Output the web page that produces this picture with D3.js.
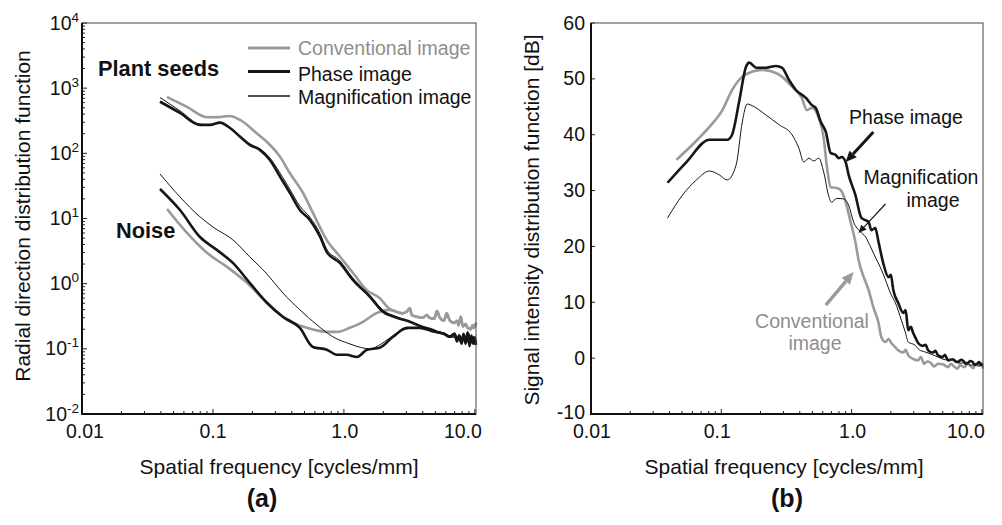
<!DOCTYPE html>
<html><head><meta charset="utf-8">
<script src="https://cdn.jsdelivr.net/npm/d3@7/dist/d3.min.js"></script>
<style>body{margin:0;background:#fff}svg{display:block;font-family:"Liberation Sans",Arial,Helvetica,sans-serif}</style>
</head><body><svg id="c" width="1002" height="525"></svg>
<script>
// ---------- data ----------
const xTickValues = [0.01, 0.1, 1, 10];
const xTickLabels = ["0.01", "0.1", "1.0", "10.0"];
const leftYExponents = [-2, -1, 0, 1, 2, 3, 4];
const rightYTicks = [-10, 0, 10, 20, 30, 40, 50, 60];
const legendLabels = ["Conventional image", "Phase image", "Magnification image"];

// (a) Radial direction distribution function — plant seeds
const seedsConventional = [[0.0446,733],[0.0634,515],[0.09,358],[0.11,360],[0.135,375],[0.161,325],[0.216,203],[0.257,151],[0.325,89],[0.387,49.5],[0.487,24.7],[0.58,12.2],[0.738,4.7],[0.931,2.61],[1.17,1.47],[1.49,0.8],[1.88,0.6],[2.2,0.42],[2.54,0.369],[2.8,0.35],[3.0,0.37],[3.19,0.42],[3.3,0.33],[3.61,0.31],[4.0,0.3],[4.3,0.33],[4.5,0.3],[4.9,0.29],[5.13,0.38],[5.4,0.3],[5.8,0.27],[6.1,0.35],[6.45,0.27],[7.0,0.25],[7.3,0.27],[7.5,0.23],[7.8,0.31],[8.1,0.22],[8.5,0.24],[8.8,0.21],[9.3,0.2],[9.6,0.23],[9.8,0.21],[10.2,0.25]];
const seedsPhase = [[0.0394,621],[0.056,417],[0.0796,273],[0.095,273],[0.113,296],[0.135,245],[0.161,180],[0.191,135],[0.228,113],[0.272,79],[0.325,44],[0.387,24.7],[0.461,13.5],[0.55,9.5],[0.656,5.3],[0.738,3.08],[0.931,2.08],[1.17,1.14],[1.58,0.63],[1.99,0.37],[2.54,0.3],[3.19,0.26],[4.0,0.217],[4.6,0.2],[5.13,0.182],[5.8,0.17],[6.45,0.153],[7.0,0.17],[7.3,0.13],[7.6,0.16],[7.9,0.12],[8.2,0.17],[8.5,0.12],[8.8,0.18],[9.1,0.11],[9.4,0.16],[9.7,0.12],[10.0,0.15],[10.2,0.115]];
const seedsMagnification = [[0.0394,720],[0.056,450],[0.0796,280],[0.095,274],[0.113,300],[0.135,250],[0.161,186],[0.191,140],[0.228,118],[0.272,85],[0.325,50],[0.387,28],[0.461,15.5],[0.55,10.5],[0.656,5.9],[0.738,3.4],[0.931,2.25],[1.17,1.22],[1.58,0.66],[1.99,0.39],[2.54,0.31],[3.19,0.26],[4.0,0.22],[4.6,0.2],[5.13,0.185],[5.8,0.17],[6.45,0.155],[7.0,0.15],[7.5,0.145],[8.1,0.14],[8.7,0.13],[9.3,0.14],[10.2,0.12]];
// (a) noise
const noiseConventional = [[0.0446,14.0],[0.0634,6.0],[0.09,2.97],[0.128,1.81],[0.182,1.03],[0.258,0.51],[0.367,0.279],[0.523,0.21],[0.741,0.182],[0.885,0.182],[1.11,0.21],[1.4,0.26],[1.79,0.356],[2.24,0.396],[2.54,0.369],[2.8,0.35],[3.0,0.37],[3.19,0.42],[3.3,0.33],[3.61,0.31],[4.0,0.3],[4.3,0.33],[4.5,0.3],[4.9,0.29],[5.13,0.38],[5.4,0.3],[5.8,0.27],[6.1,0.35],[6.45,0.27],[7.0,0.25],[7.3,0.27],[7.5,0.23],[7.8,0.31],[8.1,0.22],[8.5,0.24],[8.8,0.21],[9.3,0.2],[9.6,0.23],[9.8,0.21],[10.2,0.25]];
const noisePhase = [[0.0394,28.4],[0.056,13.5],[0.0796,5.2],[0.107,3.3],[0.142,2.08],[0.191,1.03],[0.258,0.51],[0.342,0.31],[0.461,0.21],[0.58,0.107],[0.741,0.097],[0.885,0.081],[1.05,0.081],[1.26,0.075],[1.5,0.097],[1.88,0.104],[2.37,0.153],[3.03,0.21],[3.8,0.21],[4.78,0.185],[5.8,0.17],[6.45,0.153],[7.0,0.17],[7.3,0.135],[7.6,0.16],[7.9,0.125],[8.2,0.165],[8.5,0.13],[8.9,0.17],[9.3,0.125],[9.7,0.15],[10.0,0.12],[10.2,0.13]];
const noiseMagnification = [[0.0394,48.3],[0.056,21.4],[0.0796,10.6],[0.1,7.4],[0.142,4.7],[0.191,2.58],[0.258,1.41],[0.342,0.72],[0.461,0.396],[0.622,0.233],[0.824,0.153],[1.11,0.119],[1.37,0.104],[1.58,0.1],[1.88,0.115],[2.24,0.147],[2.82,0.195],[3.61,0.21],[4.6,0.2],[5.8,0.17],[6.45,0.155],[7.2,0.15],[8.1,0.14],[8.8,0.15],[9.4,0.13],[10.2,0.125]];

// (b) Signal intensity distribution function [dB]
const sigConventional = [[0.0453,35.5],[0.06,38.2],[0.081,41.4],[0.102,44.4],[0.121,48.0],[0.145,50.4],[0.173,51.3],[0.206,51.6],[0.245,51.3],[0.292,50.4],[0.349,48.6],[0.415,46.6],[0.453,44.4],[0.496,44.8],[0.56,43.0],[0.611,39.4],[0.644,34.6],[0.692,30.6],[0.755,30.5],[0.824,30.1],[0.9,28.0],[0.982,24.4],[1.07,20.8],[1.13,17.6],[1.24,14.5],[1.35,12.2],[1.47,9.1],[1.61,6.3],[1.69,3.8],[1.82,2.9],[1.92,3.4],[2.02,2.7],[2.15,2.0],[2.28,1.4],[2.5,1.0],[2.6,1.5],[2.72,0.5],[3.0,-0.2],[3.24,-0.4],[3.4,0.2],[3.6,-1.0],[3.8,-0.6],[4.08,-0.9],[4.3,-1.5],[4.6,-1.0],[5.0,-1.1],[5.5,-1.6],[5.8,-1.0],[6.0,-1.3],[6.5,-1.9],[6.8,-1.2],[7.0,-1.4],[7.41,-1.6],[7.7,-1.0],[8.0,-1.2],[8.6,-1.8],[8.9,-1.1],[9.2,-1.3],[9.66,-1.3],[9.9,-0.9],[10.2,-1.9]];
const sigPhase = [[0.0387,31.4],[0.054,35.1],[0.081,39.1],[0.111,39.1],[0.121,40.0],[0.137,45.9],[0.155,52.2],[0.164,52.9],[0.185,52.0],[0.221,52.0],[0.263,52.3],[0.292,52.0],[0.331,49.8],[0.374,48.0],[0.446,46.6],[0.496,45.3],[0.531,44.8],[0.58,42.3],[0.634,40.5],[0.692,36.7],[0.755,36.4],[0.796,35.8],[0.839,36.0],[0.9,35.1],[0.949,32.8],[1.07,29.2],[1.19,25.1],[1.35,24.4],[1.42,22.9],[1.52,23.3],[1.61,20.8],[1.75,17.0],[1.92,14.5],[2.0,14.9],[2.09,12.2],[2.28,9.9],[2.49,8.1],[2.6,8.6],[2.72,5.0],[2.85,5.6],[2.97,4.5],[3.1,3.6],[3.24,2.7],[3.5,2.2],[3.7,2.4],[3.87,1.4],[4.2,1.0],[4.4,1.3],[4.61,0.5],[5.0,0.2],[5.2,0.6],[5.5,-0.4],[6.0,-0.2],[6.3,-0.6],[6.56,-0.7],[6.9,-0.3],[7.2,-0.5],[7.5,-1.0],[7.82,-0.9],[8.1,-0.5],[8.5,-0.7],[8.8,-1.2],[9.2,-1.0],[9.5,-0.7],[9.8,-1.1],[10.2,-1.2]];
const sigMagnification = [[0.0387,25.1],[0.0504,29.2],[0.0644,31.9],[0.081,33.5],[0.0966,32.8],[0.111,31.9],[0.13,34.6],[0.145,42.3],[0.158,45.5],[0.169,45.3],[0.221,43.5],[0.277,41.8],[0.349,40.0],[0.394,37.6],[0.43,35.1],[0.47,35.8],[0.513,35.3],[0.56,35.8],[0.611,33.3],[0.668,29.0],[0.703,27.9],[0.767,28.6],[0.868,28.5],[0.949,27.4],[1.035,24.4],[1.17,22.6],[1.28,21.7],[1.4,19.9],[1.52,18.1],[1.66,16.3],[1.82,14.0],[1.99,11.6],[2.17,9.9],[2.41,6.8],[2.58,4.7],[2.72,2.9],[3.08,2.3],[3.3,1.5],[3.67,1.1],[4.2,0.6],[4.61,0.2],[5.3,-0.3],[5.8,-0.2],[6.22,-0.7],[7.0,-0.9],[7.6,-0.7],[8.2,-1.3],[9.0,-1.0],[9.6,-1.4],[10.2,-1.2]];

// ---------- styles ----------
const GRAY = "#9a9a9a", BLACK = "#161616";
const svg = d3.select("#c");
const FONT = 19.5;

function panel(x0, x1, y0, y1, yScaleType) {
  const x = d3.scaleLog().domain([0.01, 10.2]).range([x0, x1]);
  const y = yScaleType === "log"
    ? d3.scaleLog().domain([0.01, 10000]).range([y1, y0])
    : d3.scaleLinear().domain([-10, 60]).range([y1, y0]);
  const g = svg.append("g");
  const xt = x.ticks().filter(v => v <= 10.2);
  g.selectAll(".xt").data(xt).join("line")
    .attr("x1", d => x(d)).attr("x2", d => x(d))
    .attr("y1", y1).attr("y2", d => y1 - (Math.abs(Math.log10(d) - Math.round(Math.log10(d))) < 1e-6 ? 5 : 3))
    .attr("stroke", "#222").attr("stroke-width", 1);
  return {x, y, g};
}

function frame(p, x0, x1, y0, y1) {
  p.g.append("rect").attr("x", x0).attr("y", y0).attr("width", x1 - x0).attr("height", y1 - y0)
    .attr("fill", "none").attr("stroke", "#444").attr("stroke-width", 1);
  p.g.append("line").attr("x1", x0).attr("x2", x0).attr("y1", y0).attr("y2", y1 + 1).attr("stroke", "#111").attr("stroke-width", 2);
  p.g.append("line").attr("x1", x0 - 1).attr("x2", x1).attr("y1", y1).attr("y2", y1).attr("stroke", "#111").attr("stroke-width", 2);
}

function xLabels(p, y1, shifts) {
  p.g.selectAll(".xl").data(xTickValues).join("text")
    .attr("x", (d, i) => p.x(d) + shifts[i]).attr("y", y1 + 24)
    .attr("text-anchor", "middle").attr("font-size", FONT).attr("fill", "#111")
    .text((d, i) => xTickLabels[i]);
}

function drawLine(p, data, color, width) {
  const line = d3.line().x(d => p.x(d[0])).y(d => p.y(d[1])).curve(d3.curveMonotoneX);
  p.g.append("path").datum(data).attr("d", line).attr("fill", "none")
    .attr("stroke", color).attr("stroke-width", width).attr("stroke-linejoin", "round");
}

// ---------- left panel ----------
const L = panel(82, 476, 23, 414, "log");
const ly = L.y.ticks();
L.g.selectAll(".yt").data(ly).join("line")
  .attr("x1", 82).attr("x2", d => 82 + (Math.abs(Math.log10(d) - Math.round(Math.log10(d))) < 1e-6 ? 5 : 3))
  .attr("y1", d => L.y(d)).attr("y2", d => L.y(d)).attr("stroke", "#222");
const ylab = L.g.selectAll(".yl").data(leftYExponents).join("text")
  .attr("x", 79).attr("y", d => L.y(Math.pow(10, d)) + 6.5)
  .attr("text-anchor", "end").attr("font-size", FONT).attr("fill", "#111");
ylab.append("tspan").text("10");
ylab.append("tspan").attr("dy", -8).attr("font-size", 13.5).text(d => String(d));
xLabels(L, 414, [3, 0, 1, -12]);

drawLine(L, seedsConventional, GRAY, 2.6);
drawLine(L, noiseConventional, GRAY, 2.6);
drawLine(L, seedsMagnification, BLACK, 1);
drawLine(L, noiseMagnification, BLACK, 1);
drawLine(L, seedsPhase, BLACK, 2.6);
drawLine(L, noisePhase, BLACK, 2.6);
frame(L, 82, 476, 23, 414);

// legend
const legStyles = [[GRAY, 3, "#8e8e8e", 48, 55], [BLACK, 3, "#111", 71.5, 81], [BLACK, 1.3, "#111", 96, 104]];
legStyles.forEach((s, i) => {
  L.g.append("line").attr("x1", 248).attr("x2", 290).attr("y1", s[3]).attr("y2", s[3]).attr("stroke", s[0]).attr("stroke-width", s[1]);
  L.g.append("text").attr("x", 298).attr("y", s[4]).attr("font-size", FONT).attr("fill", s[2]).text(legendLabels[i]);
});
L.g.append("text").attr("x", 98).attr("y", 76).attr("font-size", 21.8).attr("font-weight", "bold").attr("fill", "#111").text("Plant seeds");
L.g.append("text").attr("x", 116).attr("y", 238).attr("font-size", 21.8).attr("font-weight", "bold").attr("fill", "#111").text("Noise");

svg.append("text").attr("transform", "translate(30,216) rotate(-90)").attr("text-anchor", "middle")
  .attr("font-size", 21).attr("fill", "#111").text("Radial direction distribution function");
svg.append("text").attr("x", 279).attr("y", 474).attr("text-anchor", "middle")
  .attr("font-size", 21).attr("fill", "#111").text("Spatial frequency [cycles/mm]");
svg.append("text").attr("x", 262).attr("y", 507).attr("text-anchor", "middle")
  .attr("font-size", 25).attr("font-weight", "bold").attr("fill", "#111").text("(a)");

// ---------- right panel ----------
const R = panel(591, 983, 23, 414, "lin");
R.g.selectAll(".yt").data(rightYTicks).join("line")
  .attr("x1", 591).attr("x2", 595).attr("y1", d => R.y(d)).attr("y2", d => R.y(d)).attr("stroke", "#222");
R.g.selectAll(".yl").data(rightYTicks).join("text")
  .attr("x", 585).attr("y", d => R.y(d) + (d === -10 ? 5 : 6.5)).attr("text-anchor", "end")
  .attr("font-size", FONT).attr("fill", "#111").text(d => String(d));
xLabels(R, 414, [1, -4, 1, -16]);

drawLine(R, sigConventional, GRAY, 2.6);
drawLine(R, sigMagnification, BLACK, 1);
drawLine(R, sigPhase, BLACK, 2.6);
frame(R, 591, 983, 23, 414);

// annotations (data coordinates)
const arrows = [
  {from: [1.47, 40.5], to: [0.9, 35.1], color: BLACK, w: 3, head: 11},
  {from: [1.82, 27.6], to: [1.13, 22.4], color: BLACK, w: 1.2, head: 8},
  {from: [0.634, 9.5], to: [1.035, 15.4], color: GRAY, w: 3.5, head: 12}
];
arrows.forEach(a => {
  const x1 = R.x(a.from[0]), y1 = R.y(a.from[1]), x2 = R.x(a.to[0]), y2 = R.y(a.to[1]);
  const ang = Math.atan2(y2 - y1, x2 - x1);
  const bx = x2 - a.head * Math.cos(ang), by = y2 - a.head * Math.sin(ang);
  const hw = a.head * 0.45;
  R.g.append("line").attr("x1", x1).attr("y1", y1).attr("x2", bx).attr("y2", by)
    .attr("stroke", a.color).attr("stroke-width", a.w);
  R.g.append("path").attr("d", `M${x2},${y2}L${bx + hw * Math.sin(ang)},${by - hw * Math.cos(ang)}L${bx - hw * Math.sin(ang)},${by + hw * Math.cos(ang)}Z`)
    .attr("fill", a.color);
});
const notes = [
  {t: "Phase image", x: 906, y: 124, c: "#111"},
  {t: "Magnification", x: 921, y: 184, c: "#111"},
  {t: "image", x: 933, y: 207, c: "#111"},
  {t: "Conventional", x: 812, y: 328, c: "#8e8e8e"},
  {t: "image", x: 815, y: 350, c: "#8e8e8e"}
];
notes.forEach(n => R.g.append("text").attr("x", n.x).attr("y", n.y).attr("text-anchor", "middle")
  .attr("font-size", FONT).attr("fill", n.c).text(n.t));

svg.append("text").attr("transform", "translate(539,220) rotate(-90)").attr("text-anchor", "middle")
  .attr("font-size", 21).attr("fill", "#111").text("Signal intensity distribution function [dB]");
svg.append("text").attr("x", 784).attr("y", 474).attr("text-anchor", "middle")
  .attr("font-size", 21).attr("fill", "#111").text("Spatial frequency [cycles/mm]");
svg.append("text").attr("x", 787).attr("y", 507).attr("text-anchor", "middle")
  .attr("font-size", 25).attr("font-weight", "bold").attr("fill", "#111").text("(b)");
</script></body></html>
